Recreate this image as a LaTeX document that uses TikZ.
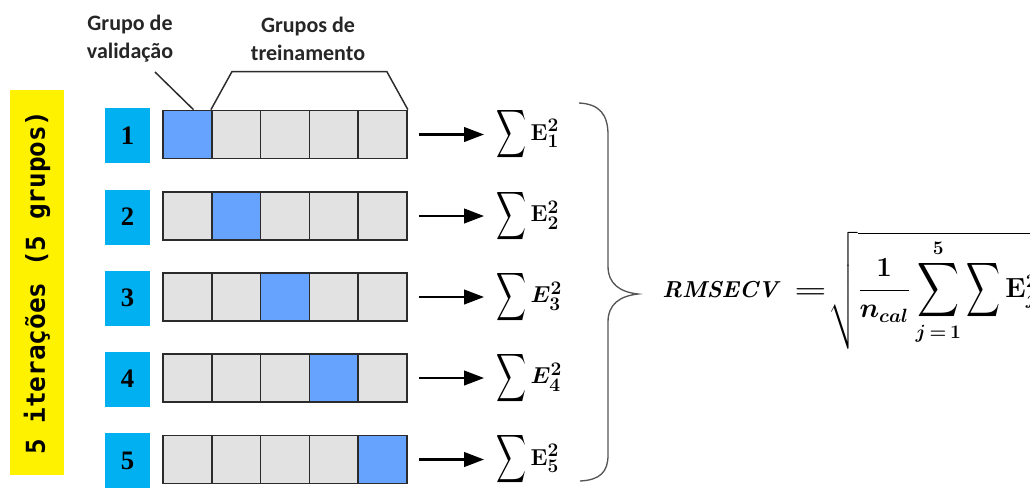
\documentclass[tikz,border=0pt]{standalone}
\usepackage{amsmath}
\usepackage[no-math]{fontspec}
\setmainfont{Carlito}
\newfontfamily\digitfont{Liberation Serif}
\newfontfamily\vertfont{DejaVu Sans Mono}
\usetikzlibrary{arrows.meta,calc}

\definecolor{cyanbox}{HTML}{00B0F0}
\definecolor{valblue}{HTML}{66A3FF}
\definecolor{traingray}{HTML}{E2E2E2}
\definecolor{edgegray}{HTML}{2B2B2B}
\definecolor{bracegray}{HTML}{555555}

% a summation sign stretched to a chosen width and height
\newcommand{\stretchsum}[2]{\mathop{\vcenter{\hbox{\scalebox{#1}[#2]{$\displaystyle\sum$}}}}}

\tikzset{
  cell/.style={draw=edgegray, line width=1.3pt, minimum width=36.6pt, minimum height=36pt, inner sep=0pt},
  numbox/.style={fill=cyanbox, minimum width=33.75pt, minimum height=41.25pt, inner sep=0pt,
    font=\digitfont\bfseries\fontsize{20}{20}\selectfont},
  grouplabel/.style={align=center, inner sep=0pt, font=\bfseries\fontsize{16.5}{21}\selectfont, text=black!85},
  conn/.style={draw=edgegray, line width=1.1pt},
  arr/.style={draw=black, line width=1.6pt, -{Triangle[length=15pt,width=11pt]}},
  sumlabel/.style={anchor=west, inner sep=0pt, font=\fontsize{19}{22}\selectfont\mathversion{bold}},
}

\begin{document}
\begin{tikzpicture}[x=0.75pt, y=-0.75pt]
\useasboundingbox (0,0) rectangle (1030,487);
\clip (0,0) rectangle (1030,487);

% vertical banner
\node[rotate=90, fill=yellow, minimum width=288.75pt, minimum height=40.5pt, inner sep=0pt,
  font=\vertfont\bfseries\fontsize{19.5}{20}\selectfont] (iter) at (37,282.5) {5 iterações (5 grupos)};

% rows of folds
\foreach \i/\y/\e in {1/134.5/\mathbf{E}, 2/216/\mathbf{E}, 3/297/E, 4/378/E, 5/459.5/\mathbf{E}}{
  \node[numbox] (n\i) at (127.5,\y+1) {\i};
  \foreach \j in {1,...,5}{
    \ifnum\j=\i \def\cellfill{valblue}\else\def\cellfill{traingray}\fi
    \node[cell, fill=\cellfill] (r\i c\j) at (163+48.8*\j-24.4,\y) {};
  }
  \node[sumlabel] (s\i) at (496,\y) {$\stretchsum{0.9}{1.46}\e_{\i}^{2}$};
  \draw[arr, shorten <=8.25pt, shorten >=9pt] (r\i c5.east) -- (r\i c5.east -| s\i.west);
}

% group labels
\node[grouplabel] (lv) at (130,39) {Grupo de\\validação};
\node[grouplabel] (lt) at (308,39) {Grupos de\\treinamento};

\coordinate (lvfoot) at (155,72);
\draw[conn] (lvfoot) -- ($(r1c1.north west)!0.62!(r1c1.north east)$);

\coordinate (tl) at ($(r1c2.north west)+(21,-38)$);
\coordinate (tr) at ($(r1c5.north east)+(-21,-38)$);
\draw[conn] (r1c2.north west) -- (tl) -- (tr) -- (r1c5.north east);

% curly brace gathering the five sums
\draw[bracegray, line width=1pt]
  (579,103) .. controls (600,104) and (608,115) .. (608,135)
  -- (608,266) .. controls (608,284) and (620,292) .. (638,294)
  .. controls (620,296) and (608,304) .. (608,322)
  -- (608,455) .. controls (608,472) and (600,480) .. (580,481);

% result formula
\node[anchor=base west, inner sep=0pt, font=\fontsize{17}{20}\selectfont\mathversion{bold}] (rmse) at (662,297)
  {$\mathit{RMSECV}$\hspace{9pt}\scalebox{1.6}[1]{$=$}\hspace{1.5pt}{\fontsize{22}{26}\selectfont$\sqrt{\dfrac{1}{n_{cal}}\stretchsum{1.05}{1.37}\limits_{j\,=\,1}^{5}\stretchsum{0.85}{1.37}\mathbf{E}_j^2}$}};
\end{tikzpicture}
\end{document}
